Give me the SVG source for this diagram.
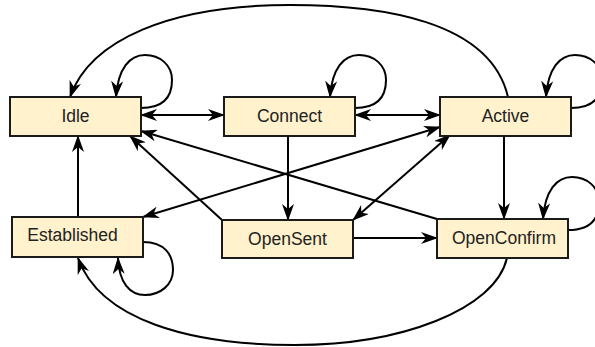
<svg xmlns="http://www.w3.org/2000/svg" width="595" height="347" viewBox="0 0 595 347">
<style>
.node rect{fill:#fff2cc;stroke:#1a1a1a;stroke-width:2}
.node text{font-family:"Liberation Sans",Arial,sans-serif;font-size:17.5px;fill:#222;text-anchor:middle;dominant-baseline:central}
.edges path{fill:none;stroke:#000;stroke-width:2}
.one{marker-end:url(#ah)}
.two{marker-end:url(#ah);marker-start:url(#ah)}
</style>
<defs>
<marker id="ah" viewBox="0 0 17 12" markerWidth="17" markerHeight="12" refX="16" refY="6" orient="auto-start-reverse" markerUnits="userSpaceOnUse">
<path d="M0,0 L17,6 L0,12 L5,6 Z" fill="#000"/>
</marker>
</defs>
<rect width="595" height="347" fill="#fff"/>
<g class="edges">
<path class="one" d="M508,97 C490,20 380,5 290,5 C170,5 90,40 70,97"/>
<path class="one" d="M507,258 C495,310 400,345 295,345 C190,345 100,320 78,258"/>
<path class="one" d="M141,108 C165,108 172,95 172,80 C172,65 160,55 145,55 C130,55 118,68 116,97"/>
<path class="one" d="M355,108 C379,108 386,95 386,80 C386,65 374,55 359,55 C344,55 332,68 330,97"/>
<path class="one" d="M571,108 C595,108 602,95 602,80 C602,65 590,55 575,55 C560,55 548,68 546,97"/>
<path class="one" d="M568,230 C592,230 599,217 599,202 C599,187 587,177 572,177 C557,177 545,190 543,219"/>
<path class="one" d="M143,242 C165,242 173,255 173,270 C173,285 160,295 145,295 C130,295 119,283 118,258"/>
<path class="two" d="M141,115 L224,115"/>
<path class="two" d="M355,115 L440,115"/>
<path class="one" d="M288,136 L288,220"/>
<path class="one" d="M504,135 L504,219"/>
<path class="one" d="M78,217 L78,136"/>
<path class="one" d="M222,220 L130,136"/>
<path class="one" d="M437,219 L141,131"/>
<path class="two" d="M143,217 L440,127"/>
<path class="two" d="M353,220 L450,135"/>
<path class="one" d="M353,238 L437,238"/>
</g>
<g id="idle" class="node"><rect x="10" y="97" width="131" height="39"/><text x="75.5" y="115.5">Idle</text></g>
<g id="connect" class="node"><rect x="224" y="97" width="131" height="39"/><text x="289.5" y="115.5">Connect</text></g>
<g id="active" class="node"><rect x="440" y="97" width="131" height="39"/><text x="505.5" y="115.5">Active</text></g>
<g id="established" class="node"><rect x="12" y="217" width="131" height="40"/><text x="72.5" y="235">Established</text></g>
<g id="opensent" class="node"><rect x="222" y="220" width="131" height="38"/><text x="287.5" y="238.5">OpenSent</text></g>
<g id="openconfirm" class="node"><rect x="437" y="219" width="131" height="39"/><text x="504" y="237.5">OpenConfirm</text></g>
</svg>
